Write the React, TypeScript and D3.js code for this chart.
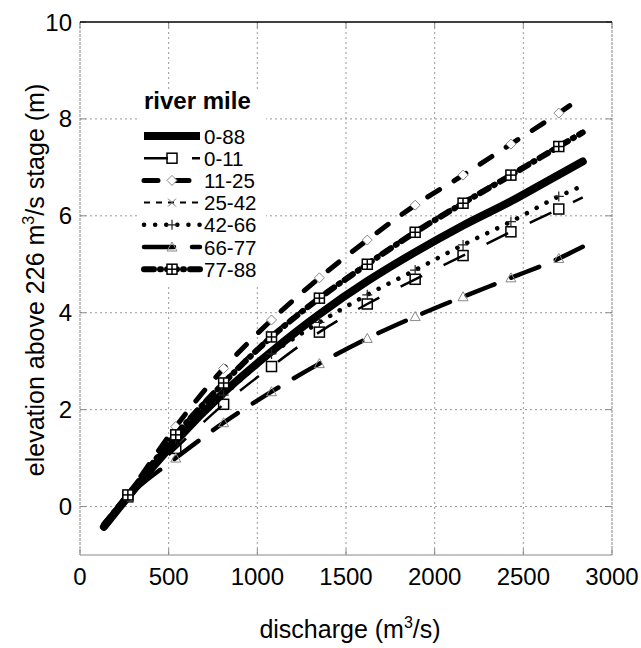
import React from "react";
import * as d3 from "d3";

const discharge = [135, 270, 540, 810, 1080, 1350, 1620, 1890, 2160, 2430, 2700, 2835];
const markerDischarge = [270, 540, 810, 1080, 1350, 1620, 1890, 2160, 2430, 2700];

const rm0_88 = [-0.42, 0.2, 1.35, 2.35, 3.2, 3.97, 4.65, 5.25, 5.8, 6.3, 6.85, 7.12];
const rm0_11 = [-0.4, 0.2, 1.2, 2.11, 2.89, 3.6, 4.18, 4.69, 5.18, 5.67, 6.14, 6.38];
const rm11_25 = [-0.4, 0.25, 1.65, 2.85, 3.85, 4.72, 5.5, 6.22, 6.84, 7.48, 8.12, 8.46];
const rm25_42 = [-0.38, 0.26, 1.52, 2.6, 3.55, 4.34, 5.04, 5.7, 6.3, 6.88, 7.47, 7.76];
const rm42_66 = [-0.4, 0.2, 1.4, 2.3, 3.15, 3.8, 4.37, 4.88, 5.4, 5.88, 6.4, 6.62];
const rm66_77 = [-0.35, 0.2, 1.0, 1.73, 2.37, 2.95, 3.47, 3.92, 4.33, 4.72, 5.12, 5.36];
const rm77_88 = [-0.38, 0.24, 1.48, 2.55, 3.5, 4.3, 5.0, 5.66, 6.26, 6.84, 7.43, 7.72];

const seriesNames = ["0-88", "0-11", "11-25", "25-42", "42-66", "66-77", "77-88"];
const seriesValues = [rm0_88, rm0_11, rm11_25, rm25_42, rm42_66, rm66_77, rm77_88];

const xTicks = [0, 500, 1000, 1500, 2000, 2500, 3000];
const yTicks = [0, 2, 4, 6, 8, 10];

const styles = [
  { w: 8, dash: "none", cap: "round", marker: "none" },
  { w: 2.5, dash: "24,24", cap: "butt", marker: "square" },
  { w: 5, dash: "14,17", cap: "round", marker: "diamond" },
  { w: 2, dash: "6,6", cap: "butt", marker: "x" },
  { w: 4.5, dash: "0.1,11", cap: "round", marker: "plus" },
  { w: 4.5, dash: "30,18", cap: "round", marker: "triangle" },
  { w: 6, dash: "10,6,1,6", cap: "round", marker: "boxplus" },
];

const FONT = "'Liberation Sans', Arial, Helvetica, sans-serif";

function Marker({ type, x, y }: { type: string; x: number; y: number }) {
  const s = 5;
  if (type === "square")
    return <rect x={x - s} y={y - s} width={2 * s} height={2 * s} fill="none" stroke="#000" strokeWidth={1.5} />;
  if (type === "boxplus")
    return (
      <g>
        <rect x={x - s} y={y - s} width={2 * s} height={2 * s} fill="#fff" stroke="#000" strokeWidth={1.5} />
        <line x1={x} x2={x} y1={y - s} y2={y + s} stroke="#000" strokeWidth={1.5} />
        <line x1={x - s} x2={x + s} y1={y} y2={y} stroke="#000" strokeWidth={1.5} />
      </g>
    );
  if (type === "diamond")
    return (
      <path d={`M${x},${y - s}L${x + s},${y}L${x},${y + s}L${x - s},${y}Z`} fill="#fff" stroke="#888" strokeWidth={1} />
    );
  if (type === "x")
    return (
      <path d={`M${x - 4},${y - 4}L${x + 4},${y + 4}M${x - 4},${y + 4}L${x + 4},${y - 4}`} stroke="#777" strokeWidth={1} />
    );
  if (type === "plus")
    return <path d={`M${x - 5},${y}L${x + 5},${y}M${x},${y - 5}L${x},${y + 5}`} stroke="#222" strokeWidth={1.2} />;
  if (type === "triangle")
    return (
      <path d={`M${x},${y - 5}L${x + 5},${y + 4}L${x - 5},${y + 4}Z`} fill="none" stroke="#888" strokeWidth={1} />
    );
  return null;
}

export default function App() {
  const W = 641,
    H = 648;
  const left = 80,
    right = 612,
    top = 22,
    bottom = 555;
  const x = d3.scaleLinear().domain([0, 3000]).range([left, right]);
  const y = d3.scaleLinear().domain([-1, 10]).range([bottom, top]);
  const line = d3
    .line<[number, number]>()
    .x((d) => x(d[0]))
    .y((d) => y(d[1]))
    .curve(d3.curveMonotoneX);

  const legX0 = 144,
    legX1 = 200,
    legY0 = 136,
    legDy = 22.2;

  return (
    <svg width={W} height={H} style={{ position: "absolute", left: 0, top: 0, background: "#fff" }}>
      <rect width={W} height={H} fill="#fff" />
      {/* grid */}
      {xTicks.slice(1, -1).map((t) => (
        <line key={"gx" + t} x1={x(t)} x2={x(t)} y1={top} y2={bottom} stroke="#999" strokeWidth={1} strokeDasharray="2,3" />
      ))}
      {yTicks.slice(0, -1).map((t) => (
        <line key={"gy" + t} x1={left} x2={right} y1={y(t)} y2={y(t)} stroke="#999" strokeWidth={1} strokeDasharray="2,3" />
      ))}
      {/* ticks */}
      {xTicks.map((t) => (
        <g key={"tx" + t}>
          <line x1={x(t)} x2={x(t)} y1={bottom} y2={bottom - 6} stroke="#888" />
          <line x1={x(t)} x2={x(t)} y1={top} y2={top + 6} stroke="#888" />
        </g>
      ))}
      {yTicks.map((t) => (
        <g key={"ty" + t}>
          <line x1={left} x2={left + 6} y1={y(t)} y2={y(t)} stroke="#888" />
          <line x1={right} x2={right - 6} y1={y(t)} y2={y(t)} stroke="#888" />
        </g>
      ))}
      {/* frame */}
      <line x1={left} x2={left} y1={top} y2={bottom} stroke="#888" strokeDasharray="3,1" />
      <line x1={right} x2={right} y1={top} y2={bottom} stroke="#888" strokeDasharray="3,1" />
      <line x1={left} x2={right} y1={bottom} y2={bottom} stroke="#888" />
      <line x1={left} x2={right} y1={top} y2={top} stroke="#000" strokeWidth={1.5} />

      {/* legend background (hides grid) */}
      <rect x={137} y={90} width={129} height={196} fill="#fff" />

      {/* series */}
      {seriesValues.map((vals, i) => {
        const st = styles[i];
        const pts: [number, number][] = discharge.map((q, j) => [q, vals[j]]);
        const valAt = (q: number) => vals[discharge.indexOf(q)];
        return (
          <g key={"s" + i}>
            <path
              d={line(pts) || ""}
              fill="none"
              stroke="#000"
              strokeWidth={st.w}
              strokeDasharray={st.dash}
              strokeLinecap={st.cap as any}
              strokeLinejoin="round"
            />
            {st.marker !== "none" &&
              markerDischarge.map((q) => <Marker key={q} type={st.marker} x={x(q)} y={y(valAt(q))} />)}
          </g>
        );
      })}

      {/* tick labels */}
      {xTicks.map((t) => (
        <text key={"lx" + t} x={x(t)} y={585} textAnchor="middle" fontFamily={FONT} fontSize={24} fill="#000">
          {t}
        </text>
      ))}
      {yTicks.map((t) => (
        <text key={"ly" + t} x={72} y={y(t) + 8.5} textAnchor="end" fontFamily={FONT} fontSize={24} fill="#000">
          {t}
        </text>
      ))}

      {/* axis titles */}
      <text x={350} y={638} textAnchor="middle" fontFamily={FONT} fontSize={25} fill="#000">
        discharge (m<tspan dy={-10} fontSize={16}>3</tspan>
        <tspan dy={10}>/s)</tspan>
      </text>
      <text
        transform="translate(44,280) rotate(-90)"
        textAnchor="middle"
        fontFamily={FONT}
        fontSize={25}
        fill="#000"
      >
        elevation above 226 m<tspan dy={-10} fontSize={16}>3</tspan>
        <tspan dy={10}>/s stage (m)</tspan>
      </text>

      {/* legend */}
      <text x={144} y={109} fontFamily={FONT} fontSize={24} fontWeight="bold" fill="#000">
        river mile
      </text>
      {seriesNames.map((name, i) => {
        const st = styles[i];
        const ly = legY0 + i * legDy;
        return (
          <g key={"lg" + i}>
            <line
              x1={legX0}
              x2={legX1}
              y1={ly}
              y2={ly}
              stroke="#000"
              strokeWidth={st.w}
              strokeDasharray={st.dash}
              strokeLinecap={st.dash === "none" ? "butt" : (st.cap as any)}
            />
            {st.marker !== "none" && <Marker type={st.marker} x={172} y={ly} />}
            <text x={204} y={ly + 7.5} fontFamily={FONT} fontSize={20.5} fill="#000">
              {name}
            </text>
          </g>
        );
      })}
    </svg>
  );
}
